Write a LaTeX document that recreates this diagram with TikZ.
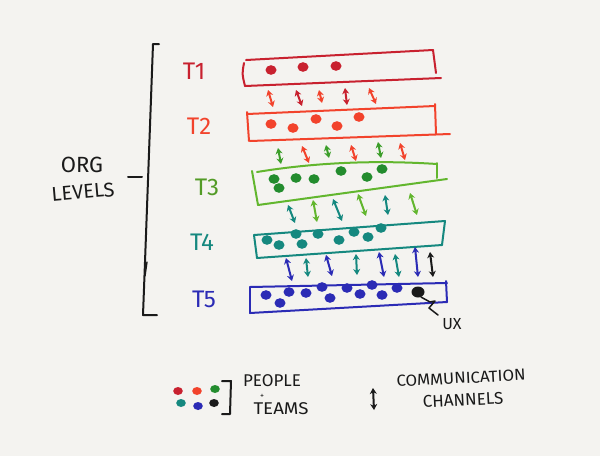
\documentclass[tikz,border=0pt]{standalone}
\usepackage{fontspec}
\setmainfont{Fira Sans}
\usetikzlibrary{arrows.meta}
\definecolor{bg}{HTML}{F4F3F0}
\definecolor{cOne}{HTML}{C8212F}
\definecolor{cTwo}{HTML}{F2432C}
\definecolor{cThreeBox}{HTML}{62B62E}
\definecolor{cThreeDot}{HTML}{238C2E}
\definecolor{cThreeArr}{HTML}{3C9E2A}
\definecolor{cFour}{HTML}{15887F}
\definecolor{cFive}{HTML}{2B2BB5}
\definecolor{ink}{HTML}{1A1A1A}
\tikzset{
  pen/.style={line width=2pt, line cap=round, line join=round},
  chan/.style={line width=2pt, line cap=round, {Stealth[length=6pt,width=7pt]}-{Stealth[length=6pt,width=7pt]}},
  lbl/.style={inner sep=0pt, font=\fontsize{24}{24}\selectfont},
  hand/.style={inner sep=0pt, text=ink},
}
\begin{document}
\begin{tikzpicture}[x=1pt,y=-1pt]
\fill[bg] (0,0) rectangle (600,456);
\useasboundingbox (0,0) rectangle (600,456);

% left bracket
\draw[pen, ink, line width=2pt] (159,44) -- (153,44) -- (145,262) -- (143,315) -- (157,315);
\draw[pen, ink, line width=1.4pt] (147,262) -- (145,276);
\coordinate (tickR) at (142,177);
\coordinate (tickL) at (128,177);
\draw[pen, ink, line width=2pt] (tickL) -- (tickR);
\node[hand, font=\fontsize{22}{22}\selectfont] (org) at (82,165) {ORG};
\node[hand, font=\fontsize{20}{20}\selectfont, rotate=5] (levels) at (83,192) {LEVELS};

% level labels
\node[lbl, text=cOne] (t1) at (194,71) {T1};
\node[lbl, text=cTwo] (t2) at (199,126) {T2};
\node[lbl, text=cThreeBox!85!black] (t3) at (207,187) {T3};
\node[lbl, text=cFour] (t4) at (202,242) {T4};
\node[lbl, text=cFive] (t5) at (204,299) {T5};

% T1 box
\draw[pen, cOne] (246,60) -- (433,50);
\draw[pen, cOne] (245,86) -- (441,78);
\draw[pen, cOne] (244,63) .. controls (242,74) .. (245,86);
\draw[pen, cOne] (433,50) -- (436,73);
% T2 box
\draw[pen, cTwo] (247,114) -- (435,106);
\draw[pen, cTwo] (250,141) -- (450,134);
\draw[pen, cTwo] (247,112) -- (249,141);
\draw[pen, cTwo] (435,104) -- (436,134);
% T3 box
\draw[pen, cThreeBox] (257,172) .. controls (300,165) and (360,159) .. (437,164);
\draw[pen, cThreeBox] (437,163) -- (437,178);
\draw[pen, cThreeBox] (258,205) -- (447,179);
\draw[pen, cThreeBox] (252,171) -- (258,205);
% T4 box
\draw[pen, cFour] (254,235) -- (445,221);
\draw[pen, cFour] (445,221) -- (442,245);
\draw[pen, cFour] (257,258) -- (442,245);
\draw[pen, cFour] (254,235) -- (257,258);
% T5 box
\draw[pen, cFive] (250,287) -- (447,283);
\draw[pen, cFive] (446,281) -- (447,302);
\draw[pen, cFive] (250,313) -- (447,302);
\draw[pen, cFive] (250,287) -- (250,313);

% dots
\foreach \x/\y/\c in {271/70/cOne, 303/67/cOne, 336/66/cOne,
  271/124/cTwo, 293/128/cTwo, 316/119/cTwo, 337/126/cTwo, 359/117/cTwo,
  274/179/cThreeDot, 279/188/cThreeDot, 296/178/cThreeDot, 314/179/cThreeDot, 341/171/cThreeDot, 367/177/cThreeDot, 382/169/cThreeDot,
  267/240/cFour, 279/245/cFour, 296/234/cFour, 302/244/cFour, 318/234/cFour, 339/240/cFour, 354/232/cFour, 368/237/cFour, 381/228/cFour,
  266/295/cFive, 280/303/cFive, 289/292/cFive, 306/293/cFive, 322/287/cFive, 330/298/cFive, 347/288/cFive, 360/294/cFive, 372/285/cFive, 382/295/cFive, 397/288/cFive}
  \fill[\c] (\x,\y) ellipse [x radius=5.5pt, y radius=4.8pt];
\fill[ink] (418,292) ellipse [x radius=6.5pt, y radius=5.5pt];

% UX pointer
\coordinate (uxdot) at (421,297);
\node[hand, font=\fontsize{16}{16}\selectfont] (ux) at (452,324) {UX};
\draw[ink, line width=1.5pt, line cap=round, line join=round] (uxdot) -- (430,302) -- (435,301) -- (429,308) -- (438,315);

% channels
\foreach \n/\xa/\ya/\xb/\yb/\c in {
  a1/268/90/273/107/cTwo, a2/296/90/302/106/cOne, a3/319/90/322/103/cTwo, a4/345/88/347/105/cOne, a5/369/88/376/104/cTwo,
  b1/278/148/281/164/cThreeArr, b2/302/146/309/163/cTwo, b3/326/145/329/158/cThreeArr, b4/351/145/356/161/cTwo, b5/378/142/381/158/cThreeArr, b6/400/143/405/160/cTwo,
  c1/288/205/295/223/cFour, c2/313/200/317/222/cThreeBox, c3/333/199/342/221/cFour, c4/358/194/366/216/cThreeBox, c5/385/195/388/215/cFour, c6/410/193/417/215/cThreeBox,
  d1/286/258/292/281/cFive, d2/306/258/308/277/cFour, d3/326/255/332/276/cFive, d4/356/254/357/275/cFour, d5/379/252/384/277/cFive, d6/395/254/399/277/cFour, d7/415/247/418/277/cFive, d8/430/252/433/277/ink}
{
  \coordinate (\n s) at (\xa,\ya);
  \coordinate (\n e) at (\xb,\yb);
  \draw[chan, \c] (\n s) -- (\n e);
}

% legend
\foreach \x/\y/\c in {178/391/cOne, 197/391/cTwo, 215/389/cThreeDot, 181/403/cFour, 198/406/cFive, 214/403/ink}
  \fill[\c] (\x,\y) ellipse [x radius=4.8pt, y radius=4pt];
\draw[pen, ink, line width=2pt] (222,381) -- (231,381) -- (230,414) -- (222,414);
\node[hand, font=\fontsize{17}{17}\selectfont] (people) at (272,381) {PEOPLE};
\node[hand, font=\fontsize{8}{8}\selectfont] (plus) at (262,396) {+};
\node[hand, font=\fontsize{17}{17}\selectfont, xscale=1.1] (teams) at (281,409) {TEAMS};
\coordinate (lgs) at (373,388);
\coordinate (lge) at (374,410);
\draw[chan, ink] (lgs) -- (lge);
\node[hand, font=\fontsize{16}{16}\selectfont, rotate=3, xscale=1.05] (comm) at (461,378) {COMMUNICATION};
\node[hand, font=\fontsize{17}{17}\selectfont, rotate=3] (chan) at (463,400) {CHANNELS};
\end{tikzpicture}
\end{document}
